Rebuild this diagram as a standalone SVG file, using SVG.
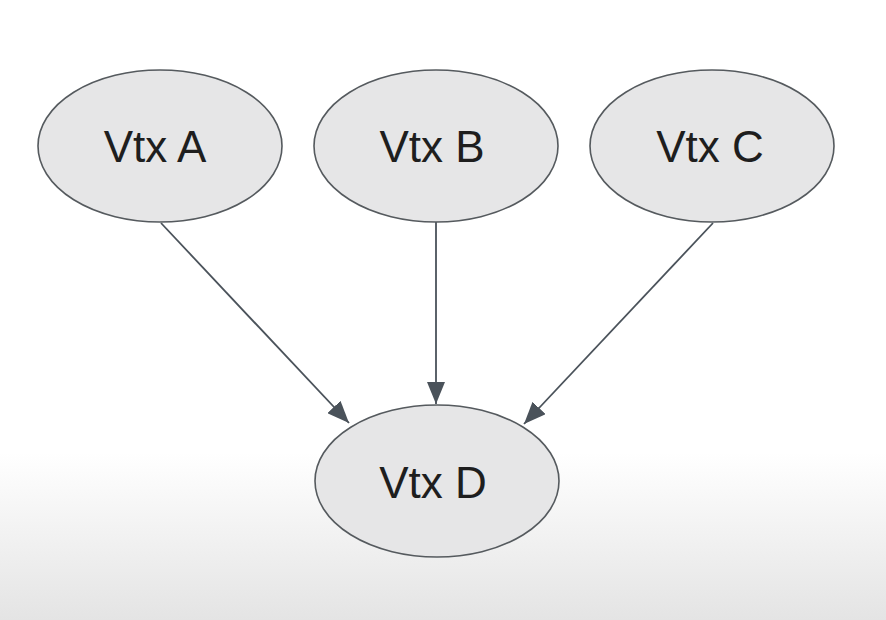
<svg xmlns="http://www.w3.org/2000/svg" width="886" height="620" viewBox="0 0 886 620">
<style>
.node ellipse{fill:#e6e6e7;stroke:#555a5e;stroke-width:1.6}
.node text{font-family:"Liberation Sans",Arial,sans-serif;font-size:44px;fill:#1e1e1e;text-anchor:middle}
.edge{stroke:#4a525a;stroke-width:1.8;fill:none;marker-end:url(#ah)}
</style>
<defs>
<linearGradient id="bg" x1="0" y1="0" x2="0" y2="1">
<stop offset="0" stop-color="#ffffff"/>
<stop offset="0.73" stop-color="#ffffff"/>
<stop offset="1" stop-color="#e4e4e4"/>
</linearGradient>
<marker id="ah" viewBox="0 0 22 18" refX="22" refY="9" markerWidth="22" markerHeight="18" markerUnits="userSpaceOnUse" orient="auto">
<path d="M0,0 L22,9 L0,18 Z" fill="#4a525a"/>
</marker>
</defs>
<rect x="0" y="0" width="886" height="620" fill="url(#bg)"/>
<g id="connectors">
<line class="edge" x1="161" y1="223" x2="349" y2="423"/>
<line class="edge" x1="436" y1="222" x2="436" y2="404"/>
<line class="edge" x1="713" y1="223" x2="524" y2="424"/>
</g>
<g id="nodeA" class="node"><ellipse cx="160" cy="146" rx="122" ry="76"/><text x="155" y="162">Vtx A</text></g>
<g id="nodeB" class="node"><ellipse cx="436" cy="146" rx="122" ry="76"/><text x="432" y="162">Vtx B</text></g>
<g id="nodeC" class="node"><ellipse cx="712" cy="146" rx="122" ry="76"/><text x="710" y="162">Vtx C</text></g>
<g id="nodeD" class="node"><ellipse cx="437" cy="481" rx="122" ry="76"/><text x="433" y="498">Vtx D</text></g>
</svg>
